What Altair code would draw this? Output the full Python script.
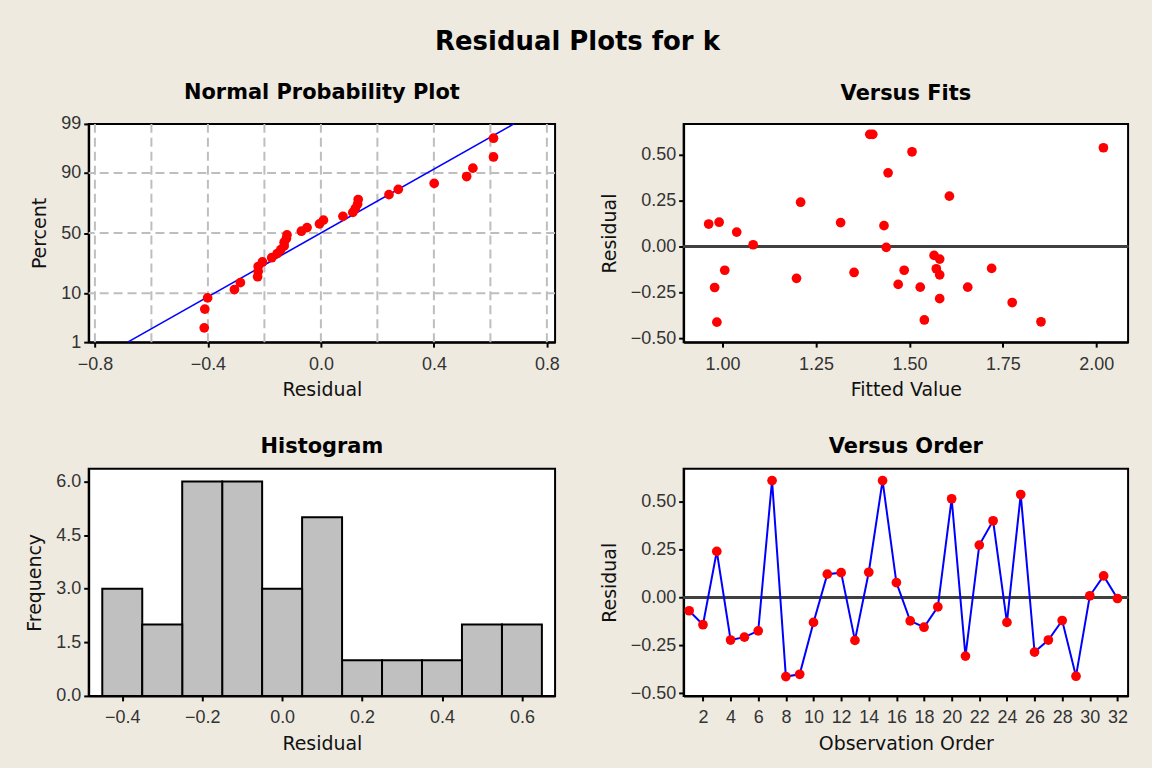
import altair as alt
import pandas as pd
from statistics import NormalDist

# Residuals of the fit, in observation order, with the matching fitted values
observation = list(range(1, 33))
residual = [-0.069, -0.142, 0.241, -0.222, -0.207, -0.174, 0.611, -0.413, -0.401, -0.130,
            0.122, 0.130, -0.224, 0.132, 0.611, 0.078, -0.122, -0.155, -0.049, 0.516,
            -0.306, 0.274, 0.401, -0.130, 0.538, -0.285, -0.222, -0.120, -0.411, 0.009,
            0.113, -0.005]
fitted = [1.581, 1.352, 1.209, 1.529, 1.470, 1.198, 1.394, 0.985, 1.540, 1.486,
          0.963, 1.316, 0.979, 0.991, 1.402, 1.038, 1.572, 1.581, 1.566, 1.507,
          1.775, 1.607, 1.443, 1.006, 2.019, 1.581, 1.656, 1.720, 1.852, 1.082,
          1.432, 1.438]

# Tick and grid values
npp_x_ticks = [-0.8, -0.4, 0.0, 0.4, 0.8]
npp_x_grid = [-0.8, -0.6, -0.4, -0.2, 0.0, 0.2, 0.4, 0.6, 0.8]
npp_pct_ticks = [1, 10, 50, 90, 99]
npp_pct_grid = [10, 50, 90]
fits_x_ticks = [1.00, 1.25, 1.50, 1.75, 2.00]
resid_ticks = [-0.50, -0.25, 0.00, 0.25, 0.50]
hist_x_ticks = [-0.4, -0.2, 0.0, 0.2, 0.4, 0.6]
hist_y_ticks = [0.0, 1.5, 3.0, 4.5, 6.0]
order_ticks = list(range(2, 33, 2))

df = pd.DataFrame({"obs": observation, "residual": residual, "fitted": fitted})
pct_grid_df = pd.DataFrame({"pct": npp_pct_grid})
x_grid_df = pd.DataFrame({"residual": npp_x_grid})

# normal-probability axis: positions are standard normal quantiles of the percents
nd = NormalDist()
z_ticks = [nd.inv_cdf(p / 100) for p in npp_pct_ticks]
z_lo, z_hi = z_ticks[0], z_ticks[-1]

RED = "#FF0000"
BLUE = "#0000FF"
GRID = "#BEBEBE"
ZERO = "#404040"
PT = 95

def sub_title(text, offset):
    return alt.TitleParams(text, font="DejaVu Sans", fontSize=21, fontWeight="bold",
                           color="black", anchor="middle", offset=offset)

# ---------- Normal probability plot ----------
def npp_x(field):
    return alt.X(f"{field}:Q", title="Residual",
                 scale=alt.Scale(domain=[-0.822, 0.829], nice=False, zero=False),
                 axis=alt.Axis(values=npp_x_ticks, format=".1f"))

def npp_y(field):
    return alt.Y(f"{field}:Q", title="Percent",
                 scale=alt.Scale(domain=[z_lo, z_hi], nice=False, zero=False),
                 axis=alt.Axis(values=z_ticks,
                               labelExpr="format(cumulativeNormal(datum.value) * 100, '.0f')"))

npp_vgrid = alt.Chart(x_grid_df).mark_rule(color=GRID, strokeWidth=2, strokeDash=[9, 5]).encode(
    x=npp_x("residual"))
npp_hgrid = alt.Chart(pct_grid_df).transform_calculate(
    z="quantileNormal(datum.pct / 100)"
).mark_rule(color=GRID, strokeWidth=2, strokeDash=[9, 5]).encode(y=npp_y("z"))

npp_line = alt.Chart(df).transform_aggregate(
    mu="mean(residual)", sd="stdev(residual)"
).transform_calculate(
    ylo="quantileNormal(0.01)", yhi="quantileNormal(0.99)"
).transform_calculate(
    xlo="datum.mu + datum.ylo * datum.sd", xhi="datum.mu + datum.yhi * datum.sd"
).mark_rule(color=BLUE, strokeWidth=1.6).encode(
    x=npp_x("xlo"), x2="xhi:Q", y=npp_y("ylo"), y2="yhi:Q")

npp_pts = alt.Chart(df).transform_window(
    rank="row_number()", sort=[alt.SortField("residual")]
).transform_joinaggregate(
    n="count()"
).transform_calculate(
    z="quantileNormal((datum.rank - 0.3) / (datum.n + 0.4))"
).mark_circle(color=RED, size=PT, opacity=1).encode(x=npp_x("residual"), y=npp_y("z"))

npp = alt.layer(npp_vgrid, npp_hgrid, npp_line, npp_pts).properties(
    width=468, height=219, title=sub_title("Normal Probability Plot", 12))

# ---------- Versus fits ----------
fx = alt.X("fitted:Q", title="Fitted Value",
           scale=alt.Scale(domain=[0.896, 2.085], nice=False, zero=False),
           axis=alt.Axis(values=fits_x_ticks, format=".2f"))
fy = alt.Y("residual:Q", title="Residual",
           scale=alt.Scale(domain=[-0.522, 0.668], nice=False, zero=False),
           axis=alt.Axis(values=resid_ticks, format=".2f"))
fits_zero = alt.Chart(df).mark_rule(color=ZERO, strokeWidth=2).encode(y=alt.datum(0))
fits_pts = alt.Chart(df).mark_circle(color=RED, size=PT, opacity=1).encode(x=fx, y=fy)
fits = alt.layer(fits_zero, fits_pts).properties(
    width=446, height=219, title=sub_title("Versus Fits", 20))

# ---------- Histogram ----------
hist = alt.Chart(df).transform_bin(
    ["bin_lo", "bin_hi"], "residual", bin=alt.Bin(extent=[-0.45, 0.65], step=0.1, nice=False)
).transform_aggregate(
    freq="count()", groupby=["bin_lo", "bin_hi"]
).mark_rect(fill="#C0C0C0", stroke="black", strokeWidth=2).encode(
    x=alt.X("bin_lo:Q", title="Residual",
            scale=alt.Scale(domain=[-0.484, 0.683], nice=False, zero=False),
            axis=alt.Axis(values=hist_x_ticks, format=".1f")),
    x2="bin_hi:Q",
    y=alt.Y("freq:Q", title="Frequency",
            scale=alt.Scale(domain=[0, 6.36], nice=False),
            axis=alt.Axis(values=hist_y_ticks, format=".1f")),
    y2=alt.datum(0),
).properties(width=468, height=228, title=sub_title("Histogram", 12))

# ---------- Versus order ----------
ox = alt.X("obs:Q", title="Observation Order",
           scale=alt.Scale(domain=[0.6, 32.77], nice=False, zero=False),
           axis=alt.Axis(values=order_ticks, format="d"))
oy = alt.Y("residual:Q", title="Residual",
           scale=alt.Scale(domain=[-0.514, 0.673], nice=False, zero=False),
           axis=alt.Axis(values=resid_ticks, format=".2f"))
order_zero = alt.Chart(df).mark_rule(color=ZERO, strokeWidth=2).encode(y=alt.datum(0))
order_line = alt.Chart(df).mark_line(color=BLUE, strokeWidth=2).encode(x=ox, y=oy, order="obs:Q")
order_pts = alt.Chart(df).mark_circle(color=RED, size=PT, opacity=1).encode(x=ox, y=oy)
order = alt.layer(order_zero, order_line, order_pts).properties(
    width=446, height=228, title=sub_title("Versus Order", 12))

chart = alt.concat(
    npp, fits, hist, order, columns=2,
    spacing={"row": 127, "column": 129}, bounds="flush",
    title=alt.TitleParams("Residual Plots for k", font="DejaVu Sans", fontSize=26,
                          fontWeight="bold", color="black", anchor="middle",
                          frame="bounds", offset=26),
).properties(
    padding={"left": 24, "top": 28, "right": 22, "bottom": 12},
    background="#EEEAE0",
).configure_view(
    stroke="black", strokeWidth=2, fill="white"
).configure_axis(
    grid=False, domainColor="black", domainWidth=2,
    tickColor="black", tickWidth=2, tickSize=5,
    labelFont="Liberation Sans", labelFontSize=18, labelColor="#333333",
    labelOverlap=False, labelFlush=False,
    titleFont="DejaVu Sans", titleFontSize=19, titleFontWeight="normal", titleColor="#111111",
).configure_axisX(
    labelPadding=8, titlePadding=8
).configure_axisY(
    labelPadding=3, titlePadding=11
)

chart.save("out.html", embed_options={"renderer": "svg", "actions": False})
